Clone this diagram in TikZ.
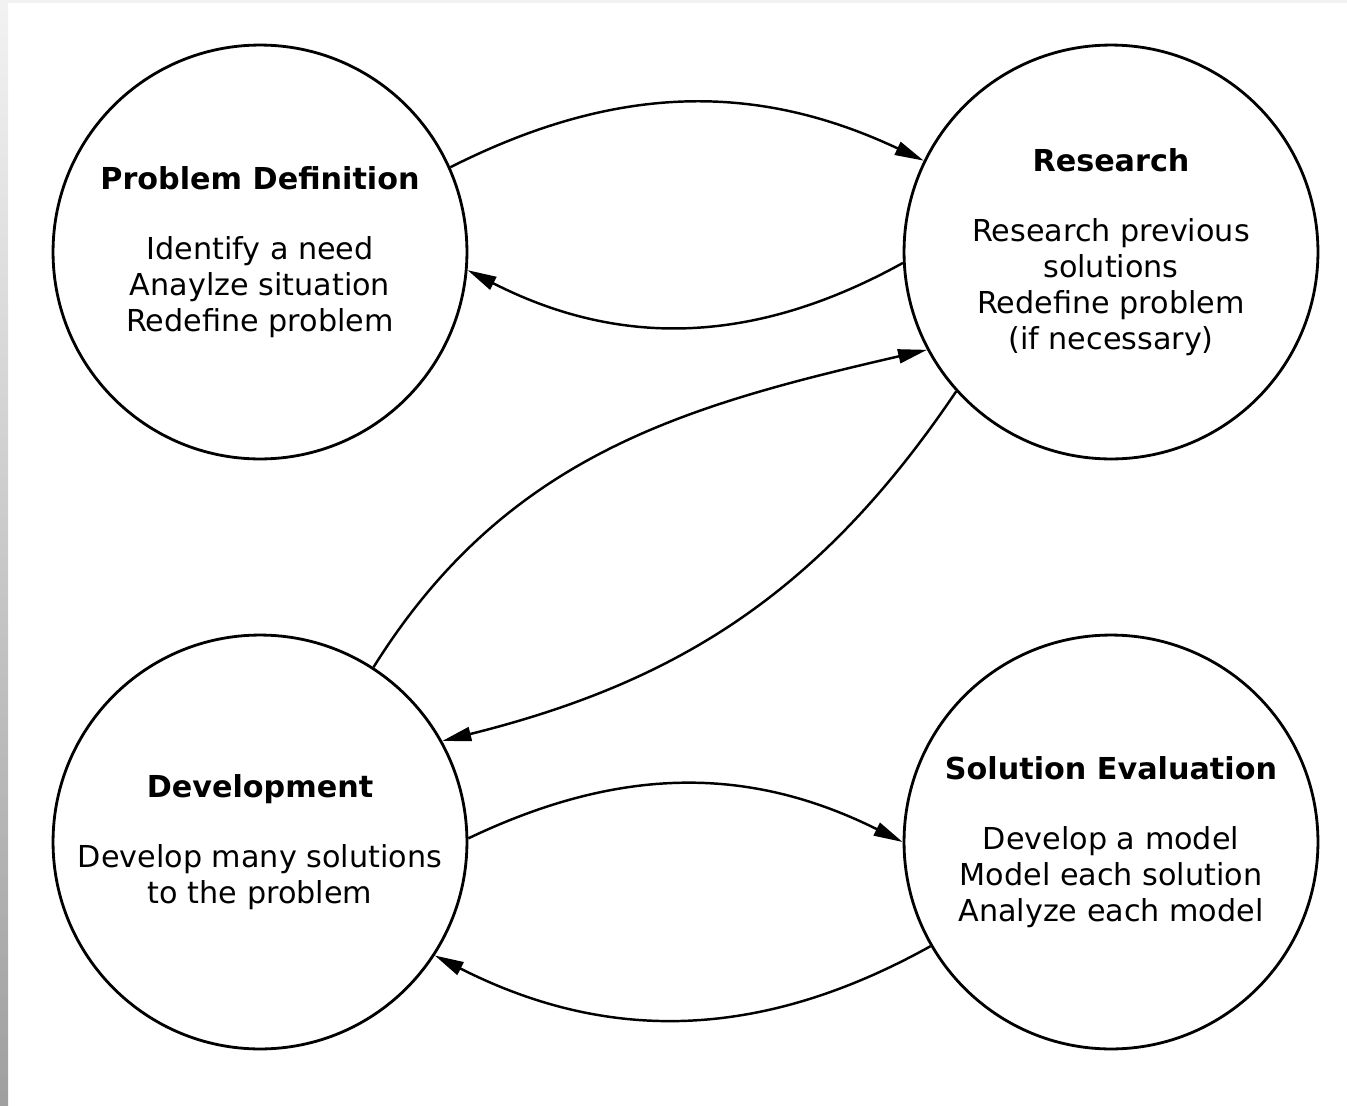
\documentclass[tikz,border=0pt]{standalone}
\usepackage{fontspec}
\setmainfont{DejaVu Sans}
\usetikzlibrary{arrows.meta}
\begin{document}
\begin{tikzpicture}[x=0.02cm,y=-0.02cm]
	\tikzstyle{stage}=[draw,circle,line width=1.6pt,minimum size=8.28cm,inner sep=0pt,align=center,font=\fontsize{17.2}{20.5}\selectfont]
	\tikzstyle{flow}=[line width=1.4pt,-{Triangle[length=5.8mm,width=2.8mm]}]
	\useasboundingbox (0,0) rectangle (1347,1106);
	\shade[top color=gray!10,bottom color=gray!75] (0,0) rectangle (8,1106);
	\fill[gray!10] (8,0) rectangle (1347,3);
	\node[stage] (pd) at (260,252) {\textbf{Problem Definition}\\[0.68cm]Identify a need\\Anaylze situation\\Redefine problem};
	\node[stage] (rs) at (1111,252) {\textbf{Research}\\[0.68cm]Research previous\\solutions\\Redefine problem\\(if necessary)};
	\node[stage] (dev) at (260,842) {\textbf{Development}\\[0.68cm]Develop many solutions\\to the problem};
	\node[stage] (se) at (1111,842) {\textbf{Solution Evaluation}\\[0.68cm]Develop a model\\Model each solution\\Analyze each model};
	\draw[flow] (pd.24) to[bend left=26] (rs.154);
	\draw[flow] (rs.183) to[bend left=28] (pd.355);
	\draw[flow] (dev.57) to[out=58,in=193] (rs.208);
	\draw[flow] (rs.222) to[out=236,in=14] (dev.29);
	\draw[flow] (dev.1) to[bend left=26] (se.180);
	\draw[flow] (se.210) to[bend left=28] (dev.327);
\end{tikzpicture}
\end{document}
